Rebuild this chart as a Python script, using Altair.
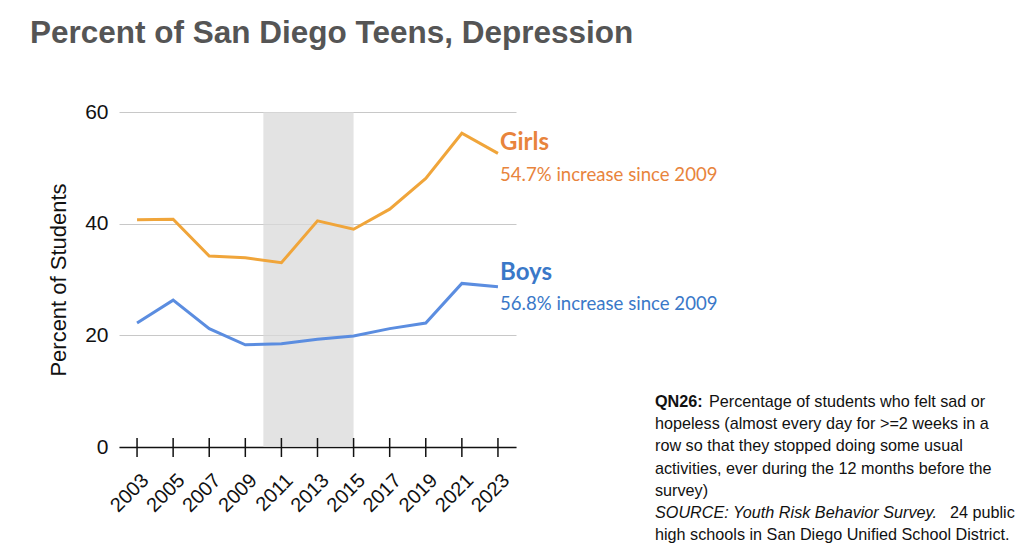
import altair as alt
import pandas as pd

years = [2003, 2005, 2007, 2009, 2011, 2013, 2015, 2017, 2019, 2021, 2023]
girls = [40.7, 40.8, 34.2, 33.9, 33.0, 40.5, 39.0, 42.6, 48.1, 56.2, 52.6]
boys = [22.2, 26.3, 21.2, 18.3, 18.5, 19.3, 19.9, 21.2, 22.2, 29.3, 28.7]
band_start, band_end = 2010, 2015
y_ticks = [0, 20, 40, 60]

GIRLS_LINE = "#F0A53A"
BOYS_LINE = "#5B8DE0"
GIRLS_TXT = "#E8843C"
BOYS_TXT = "#3A78C8"

df = pd.DataFrame({
    "year": years * 2,
    "value": girls + boys,
    "group": ["Girls"] * len(years) + ["Boys"] * len(years),
})
band_df = pd.DataFrame({"x": [band_start], "x2": [band_end], "y": [0], "y2": [60]})
tick_df = pd.DataFrame({"year": years})

W, H = 397, 335
xscale = alt.Scale(domain=[2002, 2024], nice=False, zero=False)
yscale = alt.Scale(domain=[0, 60], nice=False)

x_axis = alt.Axis(
    values=years, format="d", labelAngle=-45, labelFontSize=20,
    labelFont="Liberation Sans", labelColor="#111", domainColor="#111",
    domainWidth=1.5, ticks=False, grid=False, title=None, labelPadding=30,
    labelAlign="right", labelBaseline="middle", labelOffset=8,
    labelOverlap=False, labelBound=False, labelFlush=False)
y_axis = alt.Axis(
    values=y_ticks, labelFontSize=21, labelFont="Liberation Sans",
    labelColor="#111", ticks=False, domain=False, gridColor="#c8c8c8",
    gridWidth=1, labelPadding=11, title="Percent of Students",
    titleFontSize=22, titleFont="Liberation Sans", titleFontWeight="normal",
    titleColor="#111", titlePadding=14)

band = alt.Chart(band_df).mark_rect(color="#d9d9d9", opacity=0.75).encode(
    x=alt.X("x:Q", scale=xscale, axis=x_axis),
    x2="x2:Q",
    y=alt.Y("y:Q", scale=yscale, axis=y_axis),
    y2="y2:Q",
)

lines = alt.Chart(df).mark_line(strokeWidth=3).encode(
    x=alt.X("year:Q", scale=xscale, axis=x_axis),
    y=alt.Y("value:Q", scale=yscale, axis=y_axis),
    color=alt.Color("group:N", scale=alt.Scale(domain=["Girls", "Boys"], range=[GIRLS_LINE, BOYS_LINE]), legend=None),
)

ticks = alt.Chart(tick_df).mark_rule(color="#111", strokeWidth=1.5).encode(
    x=alt.X("year:Q", scale=xscale, axis=x_axis),
    y=alt.value(H - 9), y2=alt.value(H + 10),
)

def txt(text, x, y, size, color, weight="normal", font="Liberation Sans", style="normal"):
    return alt.Chart(pd.DataFrame({"t": [text]})).mark_text(
        align="left", baseline="middle", fontSize=size, color=color,
        fontWeight=weight, font=font, fontStyle=style,
    ).encode(text="t:N", x=alt.value(x), y=alt.value(y))

layers = [band, lines, ticks]
layers.append(txt("Percent of San Diego Teens, Depression", -89, -78, 31.5, "#555555", weight="bold"))
layers.append(txt("Girls", 381, 31, 24, GIRLS_TXT, weight="bold", font="Lato"))
layers.append(txt("54.7% increase since 2009", 381, 63, 18.6, GIRLS_TXT, font="Lato"))
layers.append(txt("Boys", 381, 161, 24, BOYS_TXT, weight="bold", font="Lato"))
layers.append(txt("56.8% increase since 2009", 381, 192, 18.6, BOYS_TXT, font="Lato"))

fx = 536
fy0 = 290
lh = 22.2
FOOT = 16.2
layers.append(txt("QN26:", fx, fy0, FOOT, "#111", weight="bold"))
layers.append(txt("Percentage of students who felt sad or", fx + 54, fy0, FOOT, "#111"))
foot_lines = [
    "hopeless (almost every day for >=2 weeks in a",
    "row so that they stopped doing some usual",
    "activities, ever during the 12 months before the",
    "survey)",
]
for i, s in enumerate(foot_lines):
    layers.append(txt(s, fx, fy0 + lh * (i + 1), FOOT, "#111"))
layers.append(txt("SOURCE: Youth Risk Behavior Survey.", fx, fy0 + lh * 5, FOOT, "#111", style="italic"))
layers.append(txt("24 public", fx + 295, fy0 + lh * 5, FOOT, "#111"))
layers.append(txt("high schools in San Diego Unified School District.", fx, fy0 + lh * 6, FOOT, "#111"))

chart = alt.layer(*layers).properties(
    width=W, height=H,
    autosize=alt.AutoSizeParams(type="none"),
    padding={"left": 119, "top": 112, "right": 1024 - 119 - W, "bottom": 555 - 112 - H},
    background="white",
).configure_view(stroke=None).configure_axisX(labelOverlap=False)

chart.save("out.html", embed_options={"renderer": "svg", "actions": False})
